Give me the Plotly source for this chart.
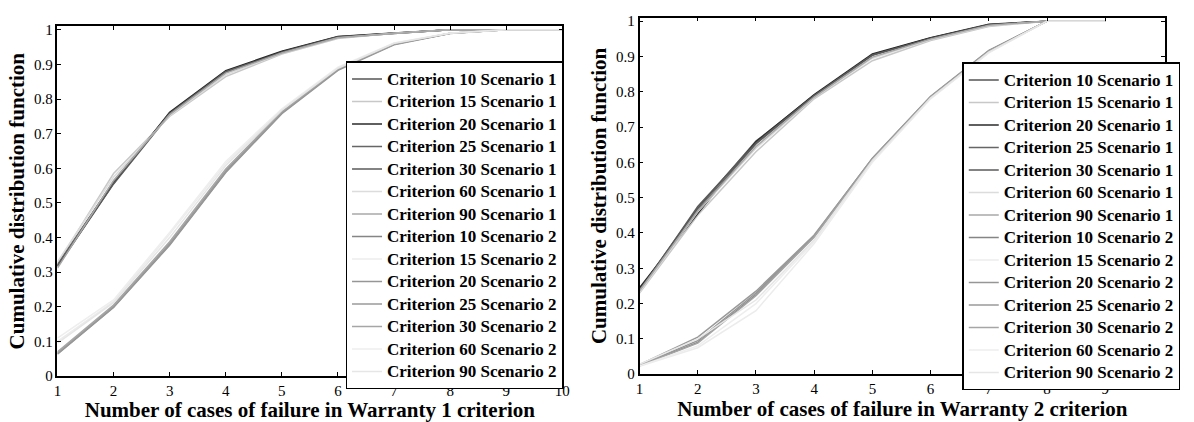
import plotly.graph_objects as go

# ---------------- data ----------------
x_w1 = [1, 2, 3, 4, 5, 6, 7, 8, 9, 10]
x_w2 = [1, 2, 3, 4, 5, 6, 7, 8, 9]

names = ["Criterion 10 Scenario 1", "Criterion 15 Scenario 1", "Criterion 20 Scenario 1",
         "Criterion 25 Scenario 1", "Criterion 30 Scenario 1", "Criterion 60 Scenario 1",
         "Criterion 90 Scenario 1", "Criterion 10 Scenario 2", "Criterion 15 Scenario 2",
         "Criterion 20 Scenario 2", "Criterion 25 Scenario 2", "Criterion 30 Scenario 2",
         "Criterion 60 Scenario 2", "Criterion 90 Scenario 2"]

colors = ["#555555", "#c8c8c8", "#2a2a2a", "#666666", "#5a5a5a", "#dcdcdc", "#a8a8a8",
          "#858585", "#ececec", "#969696", "#9a9a9a", "#a6a6a6", "#eeeeee", "#e6e6e6"]

# Warranty 1 criterion
w1_c10_s1 = [0.320, 0.560, 0.760, 0.880, 0.937, 0.980, 0.990, 1.000, 1.000, 1.000]
w1_c15_s1 = [0.325, 0.585, 0.750, 0.865, 0.930, 0.975, 0.990, 1.000, 1.000, 1.000]
w1_c20_s1 = [0.318, 0.557, 0.762, 0.882, 0.938, 0.981, 0.991, 1.000, 1.000, 1.000]
w1_c25_s1 = [0.322, 0.562, 0.758, 0.879, 0.935, 0.979, 0.990, 1.000, 1.000, 1.000]
w1_c30_s1 = [0.316, 0.555, 0.756, 0.877, 0.934, 0.978, 0.989, 1.000, 1.000, 1.000]
w1_c60_s1 = [0.330, 0.575, 0.752, 0.870, 0.932, 0.976, 0.990, 1.000, 1.000, 1.000]
w1_c90_s1 = [0.312, 0.565, 0.755, 0.875, 0.933, 0.977, 0.989, 1.000, 1.000, 1.000]
w1_c10_s2 = [0.065, 0.200, 0.380, 0.590, 0.760, 0.885, 0.958, 0.990, 1.000, 1.000]
w1_c15_s2 = [0.100, 0.215, 0.410, 0.615, 0.770, 0.890, 0.960, 0.990, 1.000, 1.000]
w1_c20_s2 = [0.063, 0.198, 0.378, 0.588, 0.758, 0.883, 0.957, 0.989, 1.000, 1.000]
w1_c25_s2 = [0.067, 0.202, 0.383, 0.593, 0.762, 0.886, 0.959, 0.990, 1.000, 1.000]
w1_c30_s2 = [0.070, 0.205, 0.388, 0.598, 0.764, 0.887, 0.959, 0.990, 1.000, 1.000]
w1_c60_s2 = [0.110, 0.220, 0.415, 0.620, 0.772, 0.892, 0.962, 0.991, 1.000, 1.000]
w1_c90_s2 = [0.095, 0.212, 0.400, 0.608, 0.768, 0.889, 0.961, 0.990, 1.000, 1.000]

# Warranty 2 criterion
w2_c10_s1 = [0.240, 0.470, 0.660, 0.790, 0.905, 0.952, 0.990, 1.000, 1.000]
w2_c15_s1 = [0.230, 0.450, 0.630, 0.780, 0.888, 0.945, 0.985, 1.000, 1.000]
w2_c20_s1 = [0.245, 0.455, 0.658, 0.792, 0.907, 0.953, 0.991, 1.000, 1.000]
w2_c25_s1 = [0.238, 0.465, 0.652, 0.788, 0.903, 0.951, 0.989, 1.000, 1.000]
w2_c30_s1 = [0.235, 0.475, 0.655, 0.789, 0.904, 0.950, 0.990, 1.000, 1.000]
w2_c60_s1 = [0.232, 0.460, 0.640, 0.783, 0.895, 0.948, 0.987, 1.000, 1.000]
w2_c90_s1 = [0.236, 0.462, 0.645, 0.785, 0.898, 0.949, 0.988, 1.000, 1.000]
w2_c10_s2 = [0.025, 0.090, 0.225, 0.390, 0.610, 0.785, 0.915, 1.000, 1.000]
w2_c15_s2 = [0.022, 0.075, 0.180, 0.370, 0.600, 0.780, 0.910, 1.000, 1.000]
w2_c20_s2 = [0.026, 0.095, 0.230, 0.392, 0.612, 0.787, 0.917, 1.000, 1.000]
w2_c25_s2 = [0.027, 0.105, 0.235, 0.394, 0.611, 0.786, 0.916, 1.000, 1.000]
w2_c30_s2 = [0.024, 0.088, 0.222, 0.388, 0.608, 0.784, 0.914, 1.000, 1.000]
w2_c60_s2 = [0.023, 0.080, 0.200, 0.375, 0.602, 0.781, 0.911, 1.000, 1.000]
w2_c90_s2 = [0.028, 0.100, 0.210, 0.380, 0.605, 0.782, 0.912, 1.000, 1.000]

w1_series = [w1_c10_s1, w1_c15_s1, w1_c20_s1, w1_c25_s1, w1_c30_s1, w1_c60_s1, w1_c90_s1,
             w1_c10_s2, w1_c15_s2, w1_c20_s2, w1_c25_s2, w1_c30_s2, w1_c60_s2, w1_c90_s2]
w2_series = [w2_c10_s1, w2_c15_s1, w2_c20_s1, w2_c25_s1, w2_c30_s1, w2_c60_s1, w2_c90_s1,
             w2_c10_s2, w2_c15_s2, w2_c20_s2, w2_c25_s2, w2_c30_s2, w2_c60_s2, w2_c90_s2]

y_tickvals = [0, 0.1, 0.2, 0.3, 0.4, 0.5, 0.6, 0.7, 0.8, 0.9, 1]
y_ticktext = ["0", "0.1", "0.2", "0.3", "0.4", "0.5", "0.6", "0.7", "0.8", "0.9", "1"]
x1_tickvals = [1, 2, 3, 4, 5, 6, 7, 8, 9, 10]
x2_tickvals = [1, 2, 3, 4, 5, 6, 7, 8, 9]

FONT = "Liberation Serif"


def leg_label(n):
    # legend rows are spaced by the legend font size; text drawn slightly larger
    return "<span style='font-size:17px'>" + n + "</span>"


fig = go.Figure()
for n, c, y in zip(names, colors, w1_series):
    fig.add_trace(go.Scatter(x=x_w1, y=y, mode="lines", name=leg_label(n),
                             line=dict(color=c, width=1.5),
                             xaxis="x", yaxis="y", legend="legend"))
for n, c, y in zip(names, colors, w2_series):
    fig.add_trace(go.Scatter(x=x_w2, y=y, mode="lines", name=leg_label(n),
                             line=dict(color=c, width=1.5),
                             xaxis="x2", yaxis="y2", legend="legend2"))

W, H = 1194, 422
ax_common = dict(showline=True, linecolor="black", linewidth=1.5, mirror="ticks",
                 ticks="inside", ticklen=4, tickcolor="black", tickwidth=1,
                 showgrid=False, zeroline=False,
                 tickfont=dict(family=FONT, size=15, color="black"))

title_font = dict(family=FONT, size=21, color="black")

leg_common = dict(bgcolor="white", bordercolor="black", borderwidth=1.5,
                  font=dict(family=FONT, size=15, color="black", weight="bold"),
                  xanchor="left", yanchor="top", itemwidth=30, tracegroupgap=0)

fig.update_layout(
    width=W, height=H,
    margin=dict(l=0, r=0, t=0, b=0),
    paper_bgcolor="white", plot_bgcolor="white",
    xaxis=dict(domain=[54 / W, 564 / W], range=[1, 10], tickvals=x1_tickvals,
               anchor="y",
               title=dict(text="<b>Number of cases of failure in Warranty 1 criterion</b>",
                          font=title_font, standoff=2),
               **ax_common),
    yaxis=dict(domain=[1 - 383 / H, 1 - 23 / H], range=[0, 1.01], tickvals=y_tickvals,
               ticktext=y_ticktext, anchor="x",
               title=dict(text="<b>Cumulative distribution function</b>",
                          font=title_font, standoff=4),
               **ax_common),
    xaxis2=dict(domain=[642 / W, 1173 / W], range=[1, 10.03], tickvals=x2_tickvals,
                anchor="y2",
                title=dict(text="<b>Number of cases of failure in Warranty 2 criterion</b>",
                           font=title_font, standoff=2),
                **ax_common),
    yaxis2=dict(domain=[1 - 381 / H, 1 - 14 / H], range=[0, 1.01], tickvals=y_tickvals,
                ticktext=y_ticktext, anchor="x2",
                title=dict(text="<b>Cumulative distribution function</b>",
                           font=title_font, standoff=4),
                **ax_common),
    legend=dict(x=345 / W, y=1 - 59 / H, **leg_common),
    legend2=dict(x=968 / W, y=1 - 60 / H, **leg_common),
    showlegend=True,
)

fig.write_html("out.html")
